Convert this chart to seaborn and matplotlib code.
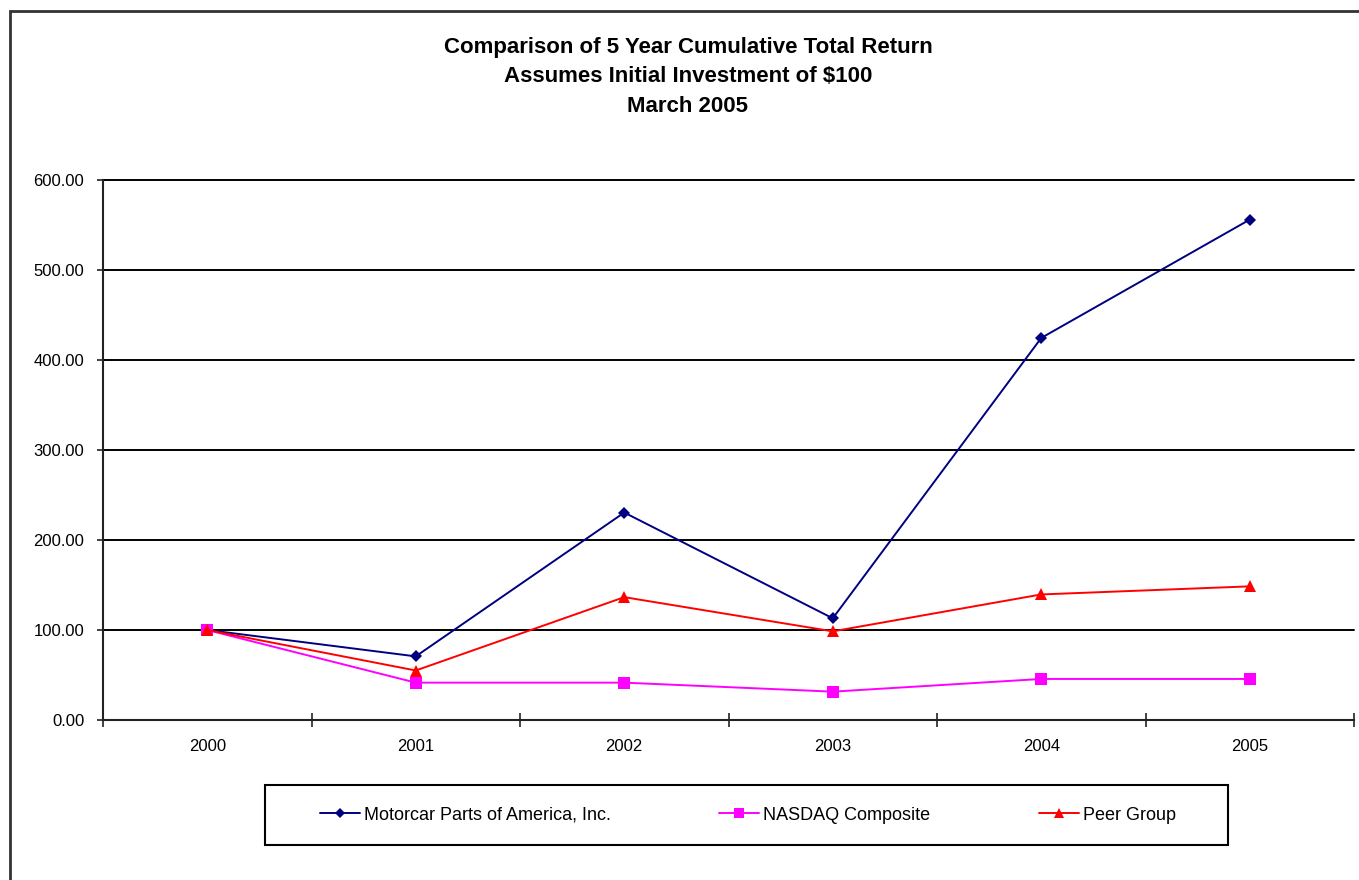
"""Line chart: 5 year cumulative total return comparison"""
import pandas as pd
import matplotlib.pyplot as plt
import seaborn as sns
from matplotlib.patches import Rectangle
from matplotlib.ticker import FixedLocator

# data
years = [2000, 2001, 2002, 2003, 2004, 2005]
motorcar = [100.0, 70.7, 230.5, 113.0, 424.5, 556.0]
nasdaq = [100.0, 41.5, 41.5, 31.5, 45.6, 45.6]
peer = [100.0, 55.0, 136.5, 98.5, 139.5, 148.5]
series_names = ["Motorcar Parts of America, Inc.", "NASDAQ Composite", "Peer Group"]
y_ticks = [0, 100, 200, 300, 400, 500, 600]

colors = {series_names[0]: "#000080", series_names[1]: "#FF00FF", series_names[2]: "#FF0000"}
markers = {series_names[0]: "D", series_names[1]: "s", series_names[2]: "^"}
msizes = {series_names[0]: 6, series_names[1]: 8, series_names[2]: 8}

df = pd.DataFrame({
    "year": years * 3,
    "value": motorcar + nasdaq + peer,
    "series": [series_names[0]] * 6 + [series_names[1]] * 6 + [series_names[2]] * 6,
})

sns.set_style("white")
plt.rcParams["font.family"] = ["Liberation Sans", "DejaVu Sans"]
plt.rcParams["text.color"] = "black"
plt.rcParams["xtick.color"] = "black"
plt.rcParams["ytick.color"] = "black"

fig = plt.figure(figsize=(13.59, 8.8), dpi=100)
ax = fig.add_axes([103 / 1359, 1 - 720 / 880, (1354 - 103) / 1359, 540 / 880])

for name in series_names:
    sub = df[df["series"] == name]
    sns.lineplot(data=sub, x="year", y="value", ax=ax, color=colors[name],
                 marker=markers[name], markersize=msizes[name], markeredgewidth=0,
                 linewidth=1.4, label=name, legend=False)

ax.set_xlim(1999.5, 2005.5)
ax.set_ylim(0, 600)
ax.set_yticks(y_ticks)
ax.set_yticklabels([f"{v:.2f}" for v in y_ticks])
ax.set_xticks(years)
ax.set_xticklabels([str(y) for y in years])
ax.xaxis.set_minor_locator(FixedLocator([y - 0.5 for y in years] + [2005.5]))
ax.set_xlabel("")
ax.set_ylabel("")

ax.yaxis.grid(True, color="black", linewidth=1.4)
ax.xaxis.grid(False)
ax.set_axisbelow(True)
for gl in ax.get_ygridlines():
    gl.set_clip_on(False)
for side in ["top", "right"]:
    ax.spines[side].set_visible(False)
for side in ["left", "bottom"]:
    ax.spines[side].set_color("#222222")
    ax.spines[side].set_linewidth(1.5)

ax.tick_params(axis="y", which="major", direction="out", length=4.5, width=1.2,
               color="#222222", pad=9, labelsize=12, left=True)
ax.tick_params(axis="x", which="major", length=0, pad=14, labelsize=12)
ax.tick_params(axis="x", which="minor", direction="inout", length=9.5, width=1.2,
               color="#222222", bottom=True)

# three-line title
title_lines = ["Comparison of 5 Year Cumulative Total Return",
               "Assumes Initial Investment of $100",
               "March 2005"]
for i, line in enumerate(title_lines):
    fig.text(688 / 1359, 1 - (48 + 29 * i) / 880, line,
             ha="center", va="center", fontsize=16, fontweight="bold")

# legend with a plain square box drawn separately
handles, labels = ax.get_legend_handles_labels()
leg = fig.legend(handles, labels, loc="center", bbox_to_anchor=(748 / 1359, 1 - 815 / 880),
                 ncol=3, frameon=False, fontsize=13, handlelength=2.2, handletextpad=0.25,
                 columnspacing=6.0)
for h, ms in zip(leg.legend_handles, [5, 7, 7]):
    h.set_markersize(ms)
fig.patches.append(Rectangle((265 / 1359, 1 - 845 / 880), 963 / 1359, 60 / 880,
                             transform=fig.transFigure, fill=False,
                             edgecolor="black", linewidth=1.5))

# outer chart border (runs off the right and bottom edges)
fig.patches.append(Rectangle((10 / 1359, -0.1), 1.2, 1.1 - 11 / 880,
                             transform=fig.transFigure, fill=False,
                             edgecolor="#333333", linewidth=2))

fig.savefig("out.png", dpi=100)
